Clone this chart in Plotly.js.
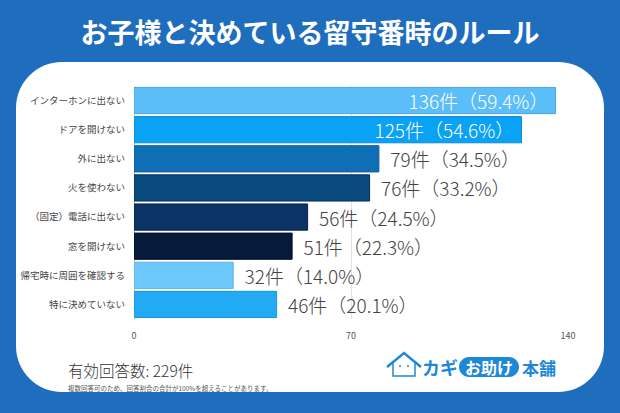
<!DOCTYPE html>
<html>
<head>
<meta charset="utf-8">
<script src="https://cdn.plot.ly/plotly-3.0.1.min.js"></script>
<style>
html,body{margin:0;padding:0;background:#1F6EBE;}
#chart{width:620px;height:413px;}
</style>
</head>
<body>
<div id="chart"></div>
<script>
const categories = ["インターホンに出ない","ドアを開けない","外に出ない","火を使わない","（固定）電話に出ない","窓を開けない","帰宅時に周囲を確認する","特に決めていない"];
const counts = [136,125,79,76,56,51,32,46];
const percents = [59.4,54.6,34.5,33.2,24.5,22.3,14.0,20.1];
const barColors = ["#5BBEF8","#0AA2F5","#0F6FB6","#0B4A7F","#0B3366","#061A3B","#6DC9FB","#22AAF5"];
const lineColors = ["#4AA8E0","#0A8CD6","#0C5E9C","#062F55","#05214A","#020D22","#5AB5E6","#1A95D8"];
const textPositions = ["inside","inside","outside","outside","outside","outside","outside","outside"];
const xTicks = [0,70,140];
const totalText = "有効回答数: 229件";
const noteText = "複数回答可のため、回答割合の合計が100%を超えることがあります。";
const titleText = "お子様と決めている留守番時のルール";

const W = 620, H = 413;
const L = 134, R = 568, T = 86, B = 319;
const px = x => (x - L) / (R - L);
const py = y => (B - y) / (B - T);
const pt = (x, y) => px(x).toFixed(5) + "," + py(y).toFixed(5);

function roundRect(x0, y0, x1, y1, r) {
  const k = 0.5523 * r;
  return "M" + pt(x0 + r, y0) +
    " L" + pt(x1 - r, y0) +
    " C" + pt(x1 - r + k, y0) + " " + pt(x1, y0 + r - k) + " " + pt(x1, y0 + r) +
    " L" + pt(x1, y1 - r) +
    " C" + pt(x1, y1 - r + k) + " " + pt(x1 - r + k, y1) + " " + pt(x1 - r, y1) +
    " L" + pt(x0 + r, y1) +
    " C" + pt(x0 + r - k, y1) + " " + pt(x0, y1 - r + k) + " " + pt(x0, y1 - r) +
    " L" + pt(x0, y0 + r) +
    " C" + pt(x0, y0 + r - k) + " " + pt(x0 + r - k, y0) + " " + pt(x0 + r, y0) + " Z";
}

const NB = "\u00A0";
const labels = counts.map((c, i) => {
  const s = c + "件（" + percents[i].toFixed(1) + "%）";
  return textPositions[i] === "inside" ? s + NB : NB + NB + s;
});
const JP = "'Noto Sans CJK JP', 'Noto Sans', sans-serif";
const logoBlue = "#1E88D8";

const trace = {
  type: "bar",
  orientation: "h",
  y: categories,
  x: counts,
  text: labels,
  textposition: textPositions,
  insidetextanchor: "end",
  insidetextfont: {color: "#ffffff", size: 19, family: JP, weight: 300},
  outsidetextfont: {color: "#444444", size: 19, family: JP, weight: 300},
  textangle: 0,
  cliponaxis: false,
  constraintext: "none",
  marker: {color: barColors, line: {color: lineColors, width: 1}},
  hoverinfo: "none"
};

const shapes = [
  {type: "path", xref: "paper", yref: "paper", layer: "below",
   path: roundRect(16, 62, 604, 392, 46), fillcolor: "#ffffff", line: {width: 0}},
  {type: "path", xref: "paper", yref: "paper", layer: "above",
   path: roundRect(459, 357, 519, 377, 10), fillcolor: logoBlue, line: {width: 0}},
  {type: "path", xref: "paper", yref: "paper", layer: "above",
   path: "M" + pt(387, 367) + " L" + pt(404, 353) + " L" + pt(421, 367),
   line: {color: logoBlue, width: 2.5}},
  {type: "path", xref: "paper", yref: "paper", layer: "above",
   path: "M" + pt(393, 362) + " L" + pt(393, 376) + " L" + pt(415, 376) + " L" + pt(415, 362),
   line: {color: logoBlue, width: 1.5}},
  {type: "circle", xref: "paper", yref: "paper", layer: "above",
   x0: px(399), x1: px(401), y0: py(367), y1: py(365), fillcolor: logoBlue, line: {width: 0}},
  {type: "circle", xref: "paper", yref: "paper", layer: "above",
   x0: px(407), x1: px(409), y0: py(367), y1: py(365), fillcolor: logoBlue, line: {width: 0}}
];

const annotations = [
  {text: totalText, xref: "paper", yref: "paper", x: px(66), y: py(370), xanchor: "left", yanchor: "middle",
   showarrow: false, font: {family: JP, size: 15.5, color: "#333333", weight: 300}},
  {text: noteText, xref: "paper", yref: "paper", x: px(66), y: py(388), xanchor: "left", yanchor: "middle",
   showarrow: false, font: {family: JP, size: 6.5, color: "#555555"}},
  {text: "カギ", xref: "paper", yref: "paper", x: px(440), y: py(367), xanchor: "center", yanchor: "middle",
   showarrow: false, font: {family: JP, size: 18, color: logoBlue, weight: "bold"}},
  {text: "お助け", xref: "paper", yref: "paper", x: px(489), y: py(367), xanchor: "center", yanchor: "middle",
   showarrow: false, font: {family: JP, size: 16, color: "#ffffff", weight: "bold"}},
  {text: "本舗", xref: "paper", yref: "paper", x: px(539), y: py(367), xanchor: "center", yanchor: "middle",
   showarrow: false, font: {family: JP, size: 17, color: logoBlue, weight: "bold"}}
];

const layout = {
  width: W, height: H,
  margin: {l: L, r: W - R, t: T, b: H - B, pad: 0},
  paper_bgcolor: "#1F6EBE",
  plot_bgcolor: "rgba(0,0,0,0)",
  showlegend: false,
  bargap: 0.1,
  title: {text: titleText, x: 0.5, xanchor: "center", y: 1 - 34 / H, yanchor: "middle",
          font: {family: JP, size: 27, color: "#ffffff", weight: "bold"}},
  xaxis: {range: [0, 140], tickvals: xTicks, ticktext: xTicks.map(String),
          showgrid: true, gridcolor: "#e3e3e3", gridwidth: 1,
          zeroline: true, zerolinecolor: "#cfcfcf", zerolinewidth: 1,
          ticks: "outside", ticklen: 8, tickcolor: "rgba(0,0,0,0)",
          tickfont: {family: JP, size: 9, color: "#555555"}, fixedrange: true},
  yaxis: {autorange: "reversed", type: "category",
          ticks: "outside", ticklen: 6, tickcolor: "rgba(0,0,0,0)",
          tickfont: {family: JP, size: 9.5, color: "#444444"}, fixedrange: true},
  shapes: shapes,
  annotations: annotations
};

Plotly.newPlot("chart", [trace], layout, {displayModeBar: false, staticPlot: true});
</script>
</body>
</html>
